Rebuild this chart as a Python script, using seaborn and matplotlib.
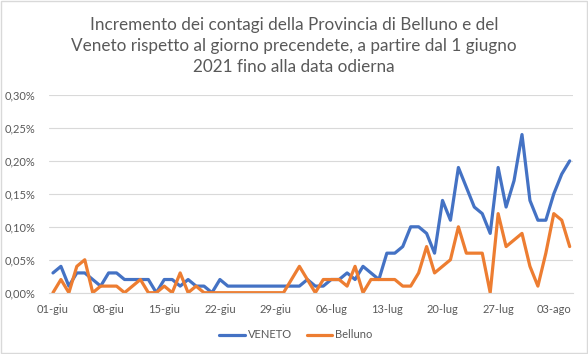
import matplotlib
matplotlib.use("Agg")
import matplotlib.pyplot as plt
import matplotlib.ticker as mticker
import seaborn as sns
import pandas as pd

# daily increase (%), 1 June -> 5 August 2021
dates = pd.date_range("2021-06-01", "2021-08-05", freq="D")
veneto = [0.03, 0.04, 0.01, 0.03, 0.03, 0.02, 0.01, 0.03, 0.03, 0.02,
          0.02, 0.02, 0.02, 0.00, 0.02, 0.02, 0.01, 0.02, 0.01, 0.01,
          0.00, 0.02, 0.01, 0.01, 0.01, 0.01, 0.01, 0.01, 0.01, 0.01,
          0.01, 0.01, 0.02, 0.01, 0.01, 0.02, 0.02, 0.03, 0.02, 0.04,
          0.03, 0.02, 0.06, 0.06, 0.07, 0.10, 0.10, 0.09, 0.06, 0.14,
          0.11, 0.19, 0.16, 0.13, 0.12, 0.09, 0.19, 0.13, 0.17, 0.24,
          0.14, 0.11, 0.11, 0.15, 0.18, 0.20]
belluno = [0.00, 0.02, 0.00, 0.04, 0.05, 0.00, 0.01, 0.01, 0.01, 0.00,
           0.01, 0.02, 0.00, 0.00, 0.01, 0.00, 0.03, 0.00, 0.01, 0.00,
           0.00, 0.00, 0.00, 0.00, 0.00, 0.00, 0.00, 0.00, 0.00, 0.00,
           0.02, 0.04, 0.02, 0.00, 0.02, 0.02, 0.02, 0.01, 0.04, 0.00,
           0.02, 0.02, 0.02, 0.02, 0.01, 0.01, 0.03, 0.07, 0.03, 0.04,
           0.05, 0.10, 0.06, 0.06, 0.06, 0.00, 0.12, 0.07, 0.08, 0.09,
           0.04, 0.01, 0.06, 0.12, 0.11, 0.07]
tick_labels = ["01-giu", "08-giu", "15-giu", "22-giu", "29-giu",
               "06-lug", "13-lug", "20-lug", "27-lug", "03-ago"]
series_names = ["VENETO", "Belluno"]
title = ("Incremento dei contagi della Provincia di Belluno e del\n"
         "Veneto rispetto al giorno precendete, a partire dal 1 giugno\n"
         "2021 fino alla data odierna")

df = pd.DataFrame({"data": dates, series_names[0]: veneto, series_names[1]: belluno})
long = df.melt(id_vars="data", var_name="serie", value_name="valore")

sns.set_style("white")
plt.rcParams["font.family"] = ["Lato", "DejaVu Sans"]
grey = "#595959"

fig = plt.figure(figsize=(5.88, 3.54), dpi=100)
ax = fig.add_axes([49 / 588, 1 - 292.7 / 354, (573 - 49) / 588, (292.7 - 95) / 354])

sns.lineplot(data=long, x="data", y="valore", hue="serie",
             palette=["#4472C4", "#ED7D31"], linewidth=2.3, ax=ax)

ax.set_xlim(dates[0] - pd.Timedelta(hours=12), dates[-1] + pd.Timedelta(hours=10))
ax.set_ylim(0, 0.30)
ax.set_yticks([0, 0.05, 0.10, 0.15, 0.20, 0.25, 0.30])
ax.yaxis.set_major_formatter(mticker.FuncFormatter(lambda v, p: f"{v:.2f}%".replace(".", ",")))
ax.set_xticks(dates[::7])
ax.set_xticklabels(tick_labels)
ax.grid(axis="y", color="#D9D9D9", linewidth=0.8)
ax.set_axisbelow(True)
for s in ["top", "right", "left"]:
    ax.spines[s].set_visible(False)
ax.spines["bottom"].set_color("#D9D9D9")
ax.tick_params(axis="y", length=0, pad=10, labelsize=8, labelcolor=grey)
ax.tick_params(axis="x", length=4, color="#D9D9D9", pad=4, labelsize=8, labelcolor=grey)
ax.set_xlabel("")
ax.set_ylabel("")

ax.legend(loc="center", bbox_to_anchor=(296 / 588, 1 - 335 / 354),
          bbox_transform=fig.transFigure, ncol=2, frameon=False,
          fontsize=8, handlelength=2.3, columnspacing=1.3, handletextpad=0.3,
          labelcolor=grey)

fig.text(0.5, 1 - 46 / 354, title, ha="center", va="center",
         fontsize=12.3, color=grey, linespacing=1.4)

fig.patches.append(plt.Rectangle((0.002, 0.003), 0.996, 0.994, transform=fig.transFigure,
                                 fill=False, edgecolor="#D9D9D9", linewidth=1))

fig.savefig("out.png", dpi=100)
